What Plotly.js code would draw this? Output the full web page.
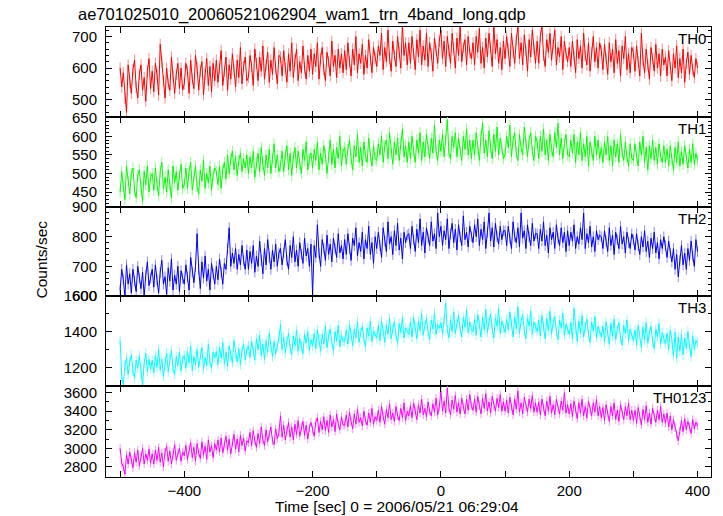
<!DOCTYPE html>
<html>
<head>
<meta charset="utf-8">
<script src="https://cdn.plot.ly/plotly-3.0.1.min.js"></script>
<style>html,body{margin:0;padding:0;background:#fff;}#chart{width:723px;height:516px;}</style>
</head>
<body>
<div id="chart"></div>
<script>
// Time bins (sec), relative to 2006/05/21 06:29:04
const binStart = -500;
const binWidth = 2.5;

const bandNames = ["TH0", "TH1", "TH2", "TH3", "TH0123"];

const th0 = [
600,540,585,505,460,610,555,520,595,625, 540,505,580,610,530,570,495,590,630,535,
590,525,615,580,515,675,620,560,505,600, 550,530,635,575,520,580,615,535,600,530,
550,615,590,520,625,565,535,640,600,530, 590,620,515,580,630,545,605,525,615,560,
625,555,600,655,545,590,635,530,610,565, 645,595,540,625,570,665,550,605,635,560,
570,640,605,545,660,615,560,635,590,670, 565,610,650,555,625,580,665,600,550,640,
635,575,655,600,555,645,590,680,570,625, 660,560,620,585,670,600,565,640,590,660,
580,645,605,680,565,630,665,595,560,650, 620,575,685,605,640,570,660,600,645,585,
655,595,680,620,575,660,610,700,585,645, 615,675,580,640,600,690,625,585,665,630,
605,670,640,710,595,665,620,720,630,590, 685,640,605,700,650,600,735,640,680,610,
680,615,700,645,595,690,635,720,610,670, 625,710,605,680,645,590,695,655,615,685,
720,630,685,605,700,655,615,710,665,600, 695,640,730,620,665,690,610,700,650,630,
680,610,700,650,725,615,665,600,695,635, 710,665,605,735,645,690,615,665,595,685,
630,700,660,605,710,650,615,690,730,630, 680,610,705,655,590,690,635,720,660,615,
685,615,700,735,640,605,690,650,710,625, 675,720,610,665,635,700,595,685,645,620,
665,605,685,640,585,690,630,670,600,710, 640,610,680,590,650,700,620,665,600,680,
655,595,675,630,580,680,620,660,585,690, 615,655,575,670,630,700,595,645,585,665,
650,590,670,620,575,710,625,585,660,610, 565,665,630,590,675,600,645,575,660,610,
635,575,655,600,560,645,600,670,570,630, 585,660,555,615,650,580,640,595,570,630,
600];

const th1 = [
450,505,465,430,520,480,445,500,515,455, 435,495,510,465,425,505,470,520,450,490,
500,455,515,470,440,505,530,460,490,450, 510,470,435,520,475,505,455,495,525,460,
470,515,460,505,530,455,495,520,465,445, 510,480,535,460,500,475,520,455,495,515,
505,470,520,460,510,530,485,550,500,540, 560,510,545,495,535,555,505,540,515,550,
500,545,515,560,490,530,555,505,570,525, 495,550,515,565,500,540,580,515,550,505,
520,560,505,550,575,510,555,495,545,570, 515,560,525,500,565,535,585,510,540,555,
515,565,535,585,510,555,525,575,550,500, 545,590,525,565,515,570,540,600,520,560,
570,525,565,590,540,510,575,545,605,530, 570,520,585,545,530,595,550,520,575,540,
535,580,550,600,530,575,590,540,610,555, 525,585,550,595,535,580,620,545,575,530,
585,540,600,560,530,590,555,610,535,585, 545,605,565,540,595,555,630,560,535,590,
560,605,545,590,645,555,540,600,570,610, 545,595,560,535,600,565,620,550,590,540,
590,550,610,565,535,600,635,555,590,545, 615,570,540,605,560,625,550,595,570,540,
550,600,570,630,545,590,610,555,535,605, 570,550,625,580,545,590,610,560,535,600,
585,540,600,560,620,550,590,535,605,565, 545,610,570,635,550,595,540,580,605,550,
545,590,555,605,530,585,550,610,535,580, 545,600,520,585,560,535,600,550,590,540,
570,530,585,550,600,535,575,520,590,545, 580,530,605,555,535,585,545,520,580,540,
535,580,545,520,585,550,600,530,570,510, 575,540,590,535,570,525,580,545,530,575,
530,565,520,575,540,510,570,530,585,520, 560,525,575,540,515,565,530,580,525,555,
535];

const th2 = [
620,690,655,600,705,640,675,610,690,650, 615,700,660,625,680,600,670,715,635,660,
690,630,705,655,610,680,720,640,665,605, 695,650,725,620,670,640,700,615,685,660,
640,705,665,620,730,680,645,700,810,690, 625,715,660,735,650,690,620,710,675,640,
700,655,725,680,640,710,690,760,830,700, 745,710,760,690,740,705,770,720,690,755,
690,750,710,770,680,735,700,785,720,675, 760,705,790,730,690,755,715,775,700,745,
760,705,745,790,720,690,770,730,800,715, 755,700,780,740,710,795,735,760,700,775,
605,770,730,840,745,700,790,760,720,805, 740,775,715,795,760,730,810,745,770,725,
790,740,810,760,720,795,770,830,735,780, 750,815,725,790,760,835,740,780,710,800,
760,815,770,730,830,785,750,850,775,800, 740,820,770,845,755,795,725,815,780,805,
810,760,835,790,750,825,780,860,770,815, 745,830,795,770,850,785,810,760,880,800,
835,770,820,790,860,760,810,845,780,825, 755,840,800,770,870,790,815,765,835,800,
780,840,800,860,770,825,790,850,760,815, 880,785,830,765,845,800,775,835,790,820,
820,770,835,795,760,850,800,780,830,765, 880,795,820,760,840,800,770,845,785,810,
810,760,825,785,850,770,805,745,830,790, 815,760,840,795,770,830,780,815,750,820,
770,815,785,840,760,800,775,830,790,880, 760,810,780,835,765,800,750,820,790,805,
800,760,820,785,750,830,770,805,740,815, 790,760,835,775,800,745,815,780,760,810,
790,755,810,770,740,800,765,820,750,785, 730,795,760,815,745,780,725,790,760,800,
770,730,785,745,715,760,690,740,665,720, 770,705,745,690,760,720,785,735,700,790,
750];

const th3 = [
1350,1150,1100,1210,1250,1160,1230,1270,1180,1140, 1240,1195,1265,1160,1100,1225,1280,1175,1245,1190,
1240,1170,1265,1200,1300,1185,1245,1150,1230,1280, 1175,1250,1295,1190,1160,1260,1210,1285,1180,1245,
1265,1195,1290,1225,1320,1180,1260,1215,1300,1200, 1270,1310,1190,1255,1210,1330,1230,1195,1285,1250,
1290,1215,1310,1250,1340,1220,1285,1205,1320,1260, 1225,1350,1275,1230,1305,1215,1290,1330,1240,1300,
1320,1255,1345,1290,1240,1360,1300,1380,1265,1330, 1245,1350,1285,1390,1310,1260,1345,1275,1320,1365,
1440,1300,1370,1280,1345,1390,1310,1270,1375,1320, 1410,1290,1360,1315,1275,1385,1335,1400,1295,1355,
1320,1390,1305,1410,1355,1290,1385,1330,1430,1310, 1375,1415,1340,1290,1400,1350,1435,1315,1380,1345,
1345,1410,1330,1440,1385,1320,1415,1365,1455,1340, 1395,1430,1360,1315,1420,1375,1460,1345,1400,1385,
1365,1435,1350,1460,1405,1340,1440,1385,1475,1360, 1415,1455,1380,1335,1445,1395,1480,1365,1420,1400,
1385,1455,1370,1480,1425,1360,1460,1405,1500,1380, 1435,1475,1400,1355,1465,1415,1505,1385,1440,1420,
1450,1385,1470,1560,1410,1365,1465,1400,1510,1390, 1445,1490,1415,1370,1480,1425,1520,1395,1455,1410,
1400,1470,1380,1495,1440,1370,1480,1410,1525,1395, 1455,1500,1415,1365,1475,1430,1530,1390,1460,1420,
1395,1470,1410,1510,1445,1370,1485,1415,1540,1390, 1460,1495,1405,1360,1475,1430,1515,1385,1455,1420,
1400,1465,1375,1490,1430,1360,1475,1405,1515,1385, 1450,1485,1400,1355,1465,1420,1505,1380,1445,1410,
1385,1450,1360,1530,1415,1345,1460,1390,1490,1370, 1430,1470,1385,1340,1455,1405,1485,1365,1430,1395,
1370,1430,1345,1455,1400,1330,1445,1375,1470,1355, 1415,1450,1365,1325,1435,1390,1465,1350,1415,1380,
1350,1410,1325,1435,1380,1310,1425,1355,1450,1335, 1395,1430,1345,1305,1415,1370,1445,1330,1395,1360,
1330,1390,1300,1410,1355,1265,1395,1250,1370,1290, 1385,1270,1365,1305,1400,1320,1260,1375,1300,1350,
1335];

const th0123 = [
3000,2840,2800,2720,2930,2830,2960,2870,2790,2950, 2850,2980,2810,2900,3000,2830,2940,2870,2990,2840,
2940,2830,2980,2870,3010,2850,2950,2800,2960,3020, 2860,2970,2830,2930,3040,2870,2950,3000,2860,2960,
2920,3030,2880,2990,3060,2900,3010,2860,3050,2950, 2890,3070,2930,3020,2880,3090,2960,3030,2900,3050,
2980,3090,2960,3110,2950,3040,3130,2980,3100,2940, 3060,3150,2990,3100,2960,3140,3030,3110,2970,3080,
3060,3170,3030,3190,3080,3010,3160,3050,3230,3090, 3030,3200,3070,3150,3230,3080,3040,3210,3100,3170,
3350,3120,3250,3090,3200,3280,3120,3230,3090,3260, 3150,3300,3130,3230,3290,3140,3250,3100,3220,3280,
3200,3130,3280,3330,3170,3290,3200,3340,3190,3300, 3170,3360,3230,3310,3180,3370,3260,3200,3340,3250,
3250,3360,3230,3390,3290,3210,3370,3260,3420,3280, 3330,3240,3400,3300,3250,3380,3280,3430,3260,3340,
3300,3410,3280,3450,3340,3260,3420,3330,3480,3310, 3380,3290,3450,3350,3300,3430,3330,3490,3300,3400,
3350,3460,3330,3490,3400,3310,3470,3380,3530,3360, 3430,3340,3500,3400,3350,3480,3390,3540,3360,3450,
3620,3400,3510,3380,3650,3440,3360,3520,3420,3570, 3390,3490,3370,3540,3450,3370,3530,3410,3580,3460,
3410,3530,3390,3560,3460,3370,3540,3430,3590,3400, 3500,3380,3560,3460,3400,3540,3440,3580,3400,3500,
3400,3520,3380,3550,3450,3360,3530,3420,3620,3390, 3490,3370,3550,3450,3390,3530,3430,3570,3390,3490,
3390,3500,3360,3530,3440,3350,3510,3400,3560,3380, 3470,3360,3530,3430,3370,3510,3410,3600,3380,3470,
3370,3480,3340,3510,3420,3320,3490,3380,3530,3350, 3450,3330,3510,3410,3350,3490,3390,3530,3350,3450,
3330,3440,3300,3470,3380,3290,3450,3350,3490,3310, 3410,3290,3470,3370,3310,3450,3350,3490,3310,3410,
3300,3410,3270,3440,3350,3250,3420,3310,3460,3280, 3380,3260,3430,3340,3280,3410,3310,3450,3280,3370,
3270,3380,3230,3350,3200,3310,3220,3150,3080,3190, 3300,3180,3320,3200,3290,3230,3160,3310,3210,3280,
3240];

// statistical error per bin (counts/sec)
const errs = [18, 15, 18, 28, 45];

const seriesList = [th0, th1, th2, th3, th0123];
const colors = ["#ff0000", "#00ff00", "#0000ff", "#00ffff", "#ff00ff"];
const errColors = ["#ff8a8a", "#8aff8a", "#8a8aff", "#8affff", "#ff8aff"];
const yRanges = [[445, 730], [410, 652], [600, 900], [1095, 1600], [2690, 3672]];
const yDticks = [100, 50, 100, 200, 200];
const yMinor = [20, 10, 20, 100, 100];
const domains = [[0.8, 1.0], [0.6, 0.8], [0.4022, 0.6], [0.2022, 0.4022], [0, 0.2022]];

const font = "Liberation Sans, Arial, Helvetica, sans-serif";
const traces = [];
const layout = {
  width: 723, height: 516,
  margin: {l: 106, r: 12, t: 27, b: 39},
  paper_bgcolor: "#fff", plot_bgcolor: "#fff",
  showlegend: false,
  font: {family: font, size: 15, color: "#000"},
  title: {text: "ae701025010_20060521062904_wam1_trn_4band_long.qdp",
          font: {family: font, size: 16.5, color: "#000"},
          xref: "container", x: 78/723, xanchor: "left",
          yref: "container", y: 1 - 14/516, yanchor: "middle"},
  annotations: []
};

for (let k = 0; k < 5; k++) {
  const n = k + 1;
  const xa = n === 1 ? "x" : "x" + n;
  const ya = n === 1 ? "y" : "y" + n;
  const vals = seriesList[k];
  const times = vals.map((_, i) => binStart + i * binWidth);
  traces.push({
    type: "scatter", mode: "lines",
    x: times, y: vals,
    xaxis: xa, yaxis: ya,
    line: {color: colors[k], width: 1},
    error_y: {type: "constant", value: errs[k], color: errColors[k], thickness: 1, width: 0},
    hoverinfo: "skip"
  });
  const xkey = n === 1 ? "xaxis" : "xaxis" + n;
  const ykey = n === 1 ? "yaxis" : "yaxis" + n;
  layout[xkey] = {
    range: [-522, 421],
    anchor: ya,
    tickmode: "array",
    tickvals: [-500, -400, -300, -200, -100, 0, 100, 200, 300, 400],
    ticktext: n === 5 ? ["", "\u2212400", "", "\u2212200", "", "0", "", "200", "", "400"]
                      : ["", "", "", "", "", "", "", "", "", ""],
    ticks: "inside", ticklen: 6, tickwidth: 1, tickcolor: "#000",
    showline: true, linecolor: "#000", linewidth: 1, mirror: "ticks",
    showgrid: false, zeroline: false,
    showticklabels: n === 5,
    tickfont: {family: font, size: 15, color: "#000"}
  };
  if (n !== 1) layout[xkey].matches = "x";
  layout[ykey] = {
    domain: domains[k],
    range: yRanges[k],
    anchor: xa,
    dtick: yDticks[k], tick0: 0,
    ticks: "inside", ticklen: 6, tickwidth: 1, tickcolor: "#000",
    minor: {dtick: yMinor[k], tick0: 0, ticks: "inside", ticklen: 3, tickcolor: "#000"},
    showline: true, linecolor: "#000", linewidth: 1, mirror: "ticks",
    showgrid: false, zeroline: false,
    tickfont: {family: font, size: 15, color: "#000"},
    ticklabelstandoff: 5
  };
  layout.annotations.push({
    text: bandNames[k], showarrow: false,
    xref: "paper", x: 1, xanchor: "right", xshift: -3,
    yref: ya + " domain", y: 1, yanchor: "top", yshift: -1,
    font: {family: font, size: 15, color: "#000"}
  });
}

layout.annotations.push({
  text: "Counts/sec", showarrow: false, textangle: -90,
  xref: "paper", x: (40.5 - 106) / 605, xanchor: "center",
  yref: "paper", y: (477 - 260) / 450, yanchor: "middle",
  font: {family: font, size: 15.5, color: "#000"}
});
layout.annotations.push({
  text: "Time [sec] 0 = 2006/05/21 06:29:04", showarrow: false,
  xref: "paper", x: (397 - 106) / 605, xanchor: "center",
  yref: "paper", y: (477 - 506) / 450, yanchor: "middle",
  font: {family: font, size: 15.5, color: "#000"}
});

Plotly.newPlot("chart", traces, layout, {staticPlot: true, displayModeBar: false});
</script>
</body>
</html>
